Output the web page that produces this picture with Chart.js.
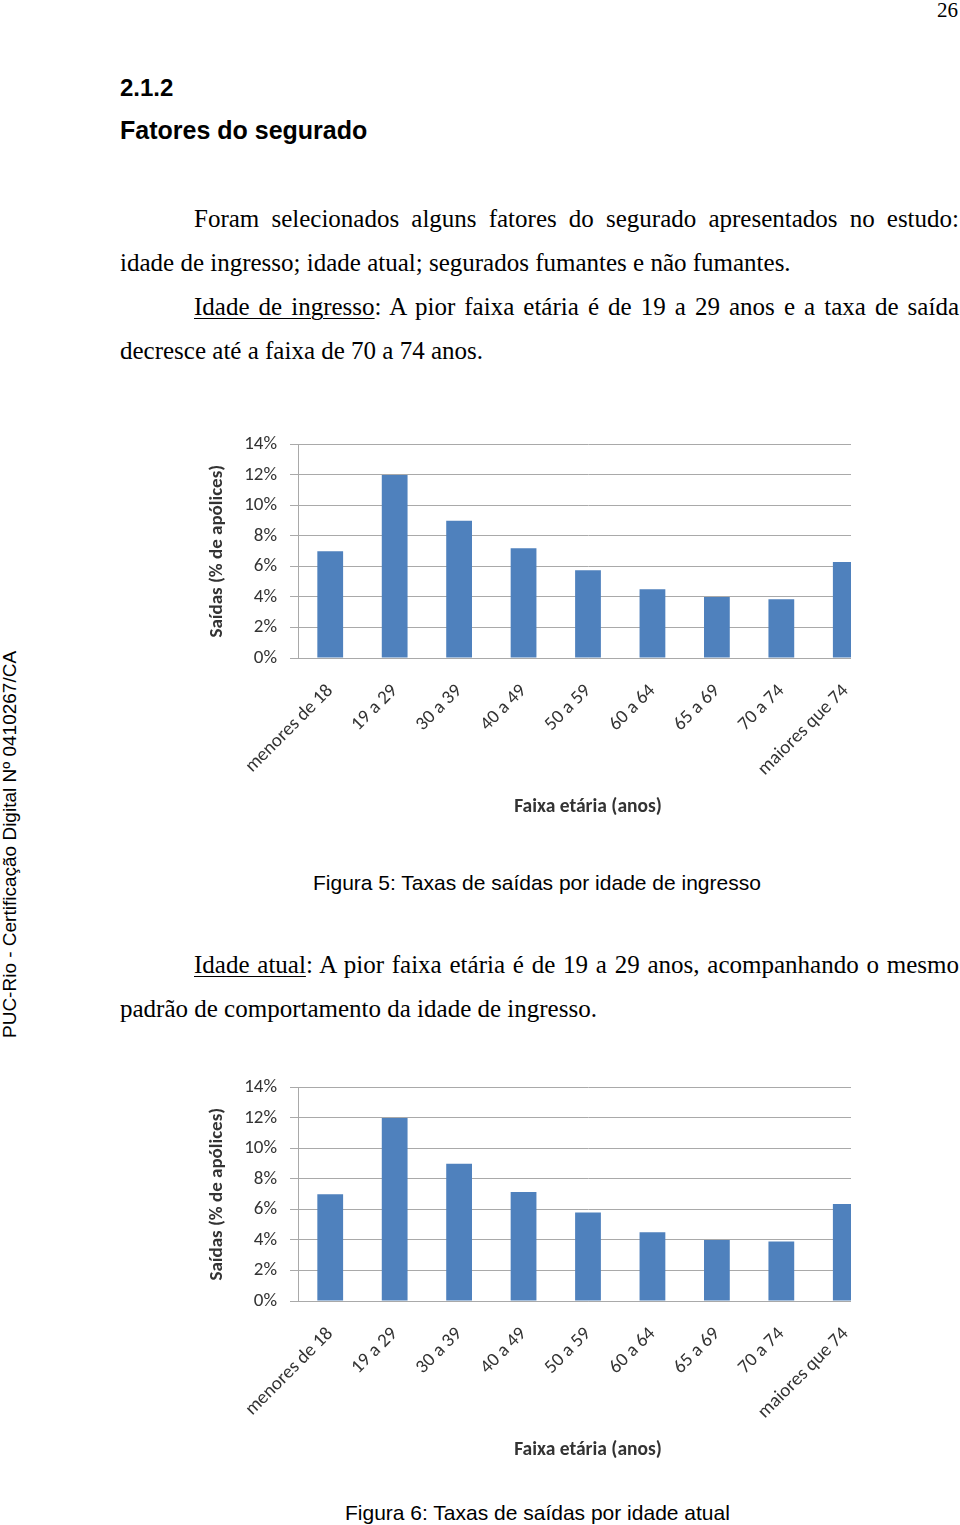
<!DOCTYPE html>
<html><head><meta charset="utf-8">
<script src="https://cdn.jsdelivr.net/npm/chart.js@4.4.1/dist/chart.umd.min.js"></script>
<style>
html,body{margin:0;padding:0;background:#fff}
body{width:960px;height:1525px;position:relative;overflow:hidden}
.t{position:absolute;white-space:nowrap;color:#000;line-height:1}
.serif{font-family:"Liberation Serif","Times New Roman",serif;font-size:25px}
.sans{font-family:"Liberation Sans",Arial,sans-serif}
.j{text-align:justify;text-align-last:justify;white-space:normal}
.u{text-decoration:underline;text-underline-offset:3px;text-decoration-thickness:1px}
.chartbox{position:absolute;overflow:hidden;left:200px;width:651px;height:410px}
</style></head>
<body>
<div class="t serif" style="left:937px;top:0px;font-size:21px">26</div>
<div class="t sans" style="left:120px;top:75.7px;font-size:24px;font-weight:bold">2.1.2</div>
<div class="t sans" style="left:120px;top:118px;font-size:25px;font-weight:bold">Fatores do segurado</div>

<div class="t serif j" style="left:194px;width:765px;top:205.8px">Foram selecionados alguns fatores do segurado apresentados no estudo:</div>
<div class="t serif" style="left:120px;top:249.8px">idade de ingresso; idade atual; segurados fumantes e não fumantes.</div>
<div class="t serif j" style="left:194px;width:765px;top:293.8px"><span class="u">Idade de ingresso</span>: A pior faixa etária é de 19 a 29 anos e a taxa de saída</div>
<div class="t serif" style="left:120px;top:337.8px">decresce até a faixa de 70 a 74 anos.</div>

<div class="chartbox" style="top:420px"><canvas id="c1" width="700" height="410"></canvas></div>

<div class="t sans" style="left:313px;top:871.7px;font-size:21px">Figura 5: Taxas de saídas por idade de ingresso</div>

<div class="t serif j" style="left:194px;width:765px;top:951.8px"><span class="u">Idade atual</span>: A pior faixa etária é de 19 a 29 anos, acompanhando o mesmo</div>
<div class="t serif" style="left:120px;top:995.8px">padrão de comportamento da idade de ingresso.</div>

<div class="chartbox" style="top:1063px"><canvas id="c2" width="700" height="410"></canvas></div>

<div class="t sans" style="left:345px;top:1501.7px;font-size:21px">Figura 6: Taxas de saídas por idade atual</div>

<div class="t sans" style="left:0px;top:1038px;font-size:19px;transform-origin:0 0;transform:rotate(-90deg)">PUC-Rio - Certificação Digital Nº 0410267/CA</div>

<script>
const categories = ['menores de 18','19 a 29','30 a 39','40 a 49','50 a 59','60 a 64','65 a 69','70 a 74','maiores que 74'];
const ingressoValues = [7.0, 12.0, 9.0, 7.2, 5.75, 4.5, 4.0, 3.85, 6.3];
const atualValues = [7.0, 12.0, 9.0, 7.15, 5.8, 4.5, 4.0, 3.9, 6.35];
const yTickLabels = ['0%','2%','4%','6%','8%','10%','12%','14%'];
const yAxisTitle = 'Saídas (% de apólices)';
const xAxisTitle = 'Faixa etária (anos)';

const FONT = 'Carlito, Lato, "Open Sans", sans-serif';
const gridCol = '#a9a9a9';
const textCol = '#333333';

function makeChart(id, values) {
  return new Chart(document.getElementById(id), {
    type: 'bar',
    data: {
      labels: categories,
      datasets: [{ data: values, backgroundColor: '#4f81bd', borderWidth: 0,
                   barPercentage: 0.4, categoryPercentage: 1.0 }]
    },
    options: {
      responsive: false, animation: false, devicePixelRatio: 1,
      layout: { padding: { left: 0, right: 22, top: 23, bottom: 0 } },
      plugins: { legend: { display: false }, tooltip: { enabled: false } },
      scales: {
        x: {
          grid: { display: false, drawTicks: false },
          border: { display: true, color: gridCol },
          ticks: { autoSkip: false, maxRotation: 45, minRotation: 45, padding: 22,
                   color: textCol, font: { family: FONT, size: 19 } },
          title: { display: true, text: xAxisTitle, color: textCol,
                   font: { family: FONT, size: 19.5, weight: 'bold' }, padding: { top: 0, bottom: 11.3 } },
          afterFit: s => { s.height = 172; }
        },
        y: {
          min: 0, max: 14,
          grid: { color: gridCol, tickLength: 8, lineWidth: 1 },
          border: { display: true, color: gridCol },
          ticks: { stepSize: 2, padding: 13, color: textCol, font: { family: FONT, size: 19 },
                   callback: (v, i) => yTickLabels[i] },
          title: { display: true, text: yAxisTitle, color: textCol,
                   font: { family: FONT, size: 19, weight: 'bold' }, padding: { top: 5.5, bottom: 0 } },
          afterFit: s => { s.width = 98; }
        }
      }
    }
  });
}
makeChart('c1', ingressoValues);
makeChart('c2', atualValues);
</script>
</body></html>
